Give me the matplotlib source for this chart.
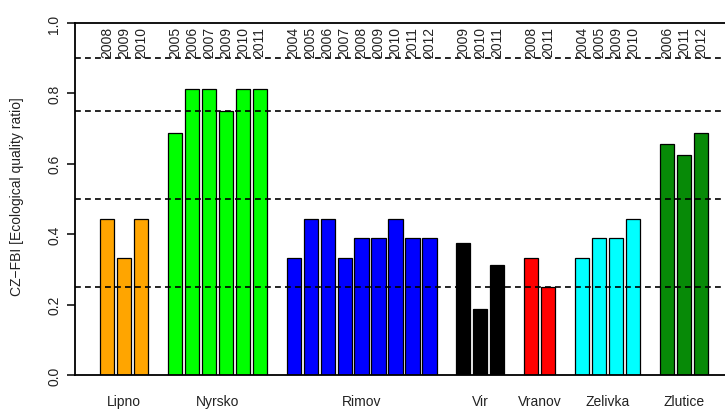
import matplotlib
matplotlib.use("Agg")
import matplotlib.pyplot as plt
from matplotlib.transforms import blended_transform_factory

plt.rcParams['font.family'] = ['Liberation Sans', 'DejaVu Sans']

lakes = ["Lipno", "Nyrsko", "Rimov", "Vir", "Vranov", "Zelivka", "Zlutice"]
colors = ["#FFA500", "#00FF00", "#0000FF", "#000000", "#FF0000", "#00FFFF", "#078A07"]
years = [
    ["2008", "2009", "2010"],
    ["2005", "2006", "2007", "2009", "2010", "2011"],
    ["2004", "2005", "2006", "2007", "2008", "2009", "2010", "2011", "2012"],
    ["2009", "2010", "2011"],
    ["2008", "2011"],
    ["2004", "2005", "2009", "2010"],
    ["2006", "2011", "2012"],
]
values = [
    [0.444, 0.333, 0.444],
    [0.6875, 0.8125, 0.8125, 0.75, 0.8125, 0.8125],
    [0.333, 0.444, 0.444, 0.333, 0.389, 0.389, 0.444, 0.389, 0.389],
    [0.375, 0.1875, 0.3125],
    [0.333, 0.25],
    [0.333, 0.389, 0.389, 0.444],
    [0.656, 0.625, 0.6875],
]
thresholds = [0.25, 0.5, 0.75, 0.9]
yticks = [0.0, 0.2, 0.4, 0.6, 0.8, 1.0]

W, H = 725, 410
fig = plt.figure(figsize=(W / 100, H / 100), dpi=100)
ax = fig.add_axes([75 / W, (H - 376) / H, 650 / W, 352 / H])

# bar positions: R barplot style, width 1, space 0.2, one empty slot between groups
slot = 0
for lake, col, yrs, vals in zip(lakes, colors, years, values):
    xs = []
    for yr, v in zip(yrs, vals):
        x = 0.7 + 1.2 * slot
        xs.append(x)
        ax.bar(x, v, width=1.0, color=col, edgecolor="black", linewidth=0.9, zorder=2)
        ax.text(x, 0.991, yr, rotation=90, ha="center", va="top", fontsize=10,
                color="#222222", zorder=4)
        slot += 1
    slot += 1
    cx = (xs[0] + xs[-1]) / 2
    ax.text(cx, -0.074, lake, ha="center", va="center", fontsize=10, color="#222222",
            transform=blended_transform_factory(ax.transData, ax.transAxes))

for t in thresholds:
    ax.axhline(t, color="black", linestyle=(0, (3.5, 2.5)), linewidth=1.2, zorder=3)

px = 16.97 / 1.2
x0 = 107 - 0.7 * px
ax.set_xlim((75 - x0) / px, (725 - x0) / px)
ax.set_ylim(0, 1.0)

ax.set_yticks(yticks)
ax.set_yticklabels([f"{v:.1f}" for v in yticks], rotation=90, va="center", fontsize=10,
                   color="#222222")
ax.tick_params(axis="y", length=6, width=1.1, pad=4)
ax.set_xticks([])

for s in ["left", "top", "bottom"]:
    ax.spines[s].set_linewidth(1.3)
ax.spines["right"].set_visible(False)

fig.text(17 / W, 1 - 197 / H, "CZ\u2212FBI [Ecological quality ratio]", rotation=90,
         ha="center", va="center", fontsize=10, color="#222222")

fig.savefig("out.png", dpi=100)
